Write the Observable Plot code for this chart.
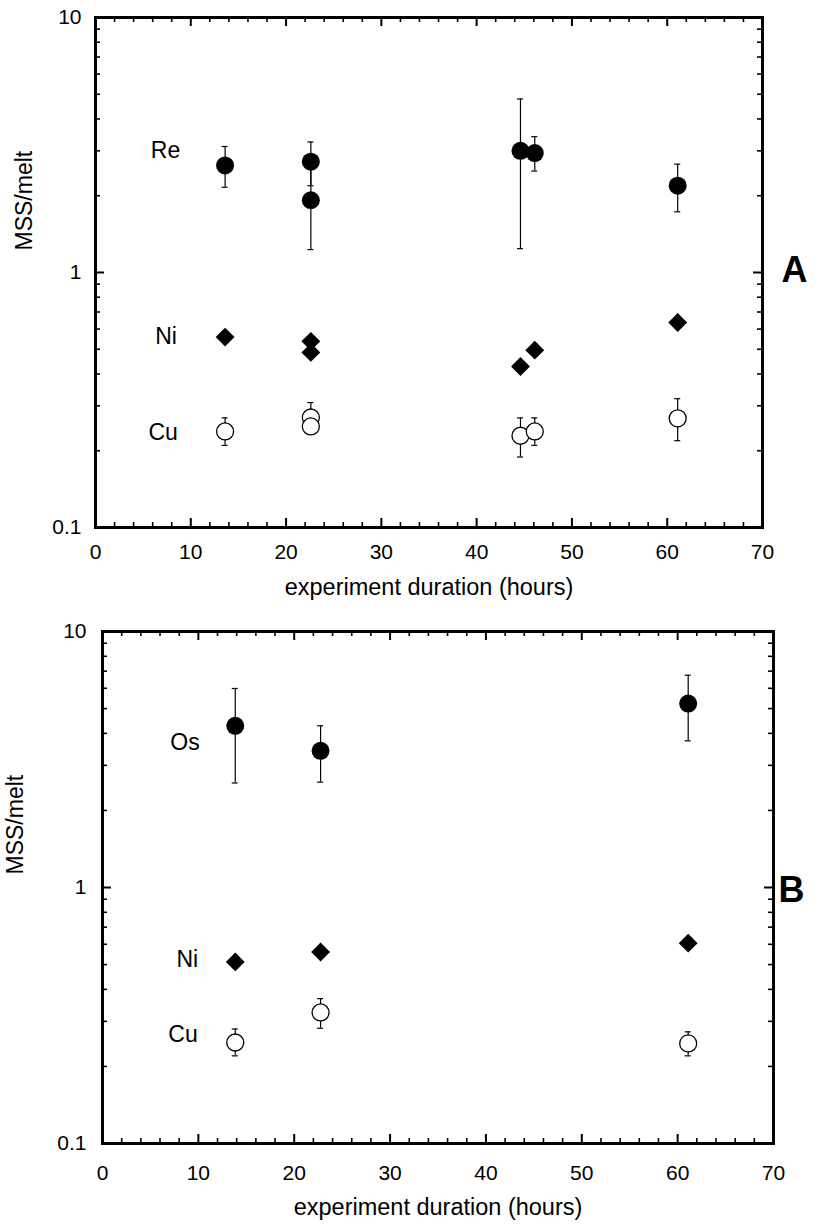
<!DOCTYPE html>
<html><head><meta charset="utf-8">
<script src="https://cdn.jsdelivr.net/npm/d3@7"></script>
<script src="https://cdn.jsdelivr.net/npm/@observablehq/plot@0.6"></script>
<style>body{margin:0;background:#fff} #chart svg{display:block}</style>
</head><body><div id="chart"></div>
<script>
// ---- Panel A data ----
const hoursA = [13.6, 22.6, 22.6, 44.6, 46.1, 61.1];
const reA    = [2.63, 2.72, 1.92, 3.00, 2.94, 2.19];
const reLoA  = [2.16, 2.19, 1.23, 1.24, 2.50, 1.73];
const reHiA  = [3.12, 3.25, 2.61, 4.79, 3.41, 2.66];
const niA    = [0.558, 0.537, 0.486, 0.428, 0.496, 0.637];
const cuA    = [0.238, 0.270, 0.249, 0.229, 0.238, 0.268];
const cuLoA  = [0.210, 0.240, null, 0.189, 0.210, 0.219];
const cuHiA  = [0.269, 0.309, null, 0.269, 0.269, 0.320];
const labelsA = [{t: "Re", x: 7.35, y: 3.0}, {t: "Ni", x: 7.4, y: 0.561}, {t: "Cu", x: 7.1, y: 0.235}];

// ---- Panel B data ----
const hoursB = [13.85, 22.75, 61.1];
const osB    = [4.28, 3.42, 5.23];
const osLoB  = [2.56, 2.58, 3.74];
const osHiB  = [5.99, 4.28, 6.75];
const niB    = [0.512, 0.560, 0.606];
const cuB    = [0.248, 0.325, 0.246];
const cuLoB  = [0.220, 0.282, 0.220];
const cuHiB  = [0.280, 0.368, 0.273];
const labelsB = [{t: "Os", x: 8.6, y: 3.69}, {t: "Ni", x: 8.85, y: 0.525}, {t: "Cu", x: 8.4, y: 0.267}];

// ---- Axis ticks ----
const xMajor = [0, 10, 20, 30, 40, 50, 60, 70];
const xMinor = [2,4,6,8,12,14,16,18,22,24,26,28,32,34,36,38,42,44,46,48,52,54,56,58,62,64,66,68];
const yMajor = [0.1, 1, 10];
const yMinor = [0.2,0.3,0.4,0.5,0.6,0.7,0.8,0.9,2,3,4,5,6,7,8,9];
const xTitle = "experiment duration (hours)";
const yTitle = "MSS/melt";
const FONT = "Liberation Sans, Arial, Helvetica, sans-serif";

function rows(xs, vs, lo, hi) {
  return xs.map((x, i) => ({x, v: vs[i], lo: lo ? lo[i] : null, hi: hi ? hi[i] : null}));
}

function panel(cfg) {
  const W = 822;
  const fw = W - cfg.ml - cfg.mr, fh = cfg.h - cfg.mt - cfg.mb;
  const filled = rows(cfg.hours, cfg.main, cfg.mainLo, cfg.mainHi);
  const ni = rows(cfg.hours, cfg.ni);
  const cu = rows(cfg.hours, cfg.cu, cfg.cuLo, cfg.cuHi);
  const errs = filled.concat(cu).filter(d => d.lo != null && d.hi != null);
  const tk = {stroke: "black"};
  return Plot.plot({
    width: W, height: cfg.h,
    marginTop: cfg.mt, marginBottom: cfg.mb, marginLeft: cfg.ml, marginRight: cfg.mr,
    style: {fontFamily: FONT, fontSize: "21px", background: "white", color: "black"},
    x: {domain: [0, 70], axis: null},
    y: {type: "log", domain: [0.1, 10], axis: null},
    marks: [
      // inward ticks on all four sides
      Plot.ruleX(xMinor, {x: d => d, insetTop: fh - 5, strokeWidth: 1.6, ...tk}),
      Plot.ruleX(xMinor, {x: d => d, insetBottom: fh - 5, strokeWidth: 1.6, ...tk}),
      Plot.ruleX(xMajor, {x: d => d, insetTop: fh - 9, strokeWidth: 2, ...tk}),
      Plot.ruleX(xMajor, {x: d => d, insetBottom: fh - 9, strokeWidth: 2, ...tk}),
      Plot.ruleY(yMinor, {y: d => d, insetRight: fw - 5, strokeWidth: 1.6, ...tk}),
      Plot.ruleY(yMinor, {y: d => d, insetLeft: fw - 5, strokeWidth: 1.6, ...tk}),
      Plot.ruleY(yMajor, {y: d => d, insetRight: fw - 9, strokeWidth: 2, ...tk}),
      Plot.ruleY(yMajor, {y: d => d, insetLeft: fw - 9, strokeWidth: 2, ...tk}),
      // error bars
      Plot.ruleX(errs, {x: "x", y1: "lo", y2: "hi", stroke: "black", strokeWidth: 1.2}),
      Plot.ruleY(errs, {y: "hi", x1: "x", x2: "x", insetLeft: -3, insetRight: -3, stroke: "black", strokeWidth: 1.2}),
      Plot.ruleY(errs, {y: "lo", x1: "x", x2: "x", insetLeft: -3, insetRight: -3, stroke: "black", strokeWidth: 1.2}),
      // points
      Plot.dot(filled, {x: "x", y: "v", r: 9, fill: "black"}),
      Plot.dot(ni, {x: "x", y: "v", r: 8.5, symbol: "diamond2", fill: "black"}),
      Plot.dot(cu, {x: "x", y: "v", r: 8.5, fill: "white", stroke: "black", strokeWidth: 1.3}),
      Plot.frame({stroke: "black", strokeWidth: 3}),
      // tick labels
      Plot.text(xMajor, {x: d => d, frameAnchor: "bottom", text: d => String(d), dy: cfg.xLabDy, fontSize: 21, fill: "black"}),
      Plot.text(yMajor, {y: d => d, frameAnchor: "left", text: d => String(d), textAnchor: "end", dx: cfg.yLabDx, fontSize: 21, fill: "black"}),
      // element labels
      Plot.text(cfg.labels, {x: "x", y: "y", text: "t", fontSize: 23, fill: "black"}),
      // axis titles
      Plot.text([xTitle], {frameAnchor: "bottom", text: d => d, lineAnchor: "bottom", dy: cfg.xTitleDy, fontSize: 23.5, fill: "black"}),
      Plot.text([yTitle], {frameAnchor: "left", text: d => d, rotate: -90, dx: cfg.yTitleDx, dy: cfg.yTitleDy, fontSize: 23, fill: "black"}),
      // panel letter
      Plot.text([cfg.letter], {frameAnchor: "right", text: d => d, dx: cfg.letterDx, dy: cfg.letterDy, fontSize: 36, fontWeight: "bold", fill: "black"})
    ]
  });
}

const chart = document.getElementById("chart");
chart.append(panel({
  h: 612, mt: 17, mb: 85, ml: 95, mr: 60,
  hours: hoursA, main: reA, mainLo: reLoA, mainHi: reHiA, ni: niA, cu: cuA, cuLo: cuLoA, cuHi: cuHiA,
  labels: labelsA, xLabDy: 31, yLabDx: -14, xTitleDy: 67, yTitleDx: -71, yTitleDy: -22,
  letter: "A", letterDx: 45, letterDy: -2
}));
chart.append(panel({
  h: 612, mt: 19, mb: 81, ml: 102, mr: 49,
  hours: hoursB, main: osB, mainLo: osLoB, mainHi: osHiB, ni: niB, cu: cuB, cuLo: cuLoB, cuHi: cuHiB,
  labels: labelsB, xLabDy: 36, yLabDx: -16, xTitleDy: 71, yTitleDx: -87, yTitleDy: -13,
  letter: "B", letterDx: 31, letterDy: 3
}));
</script></body></html>
